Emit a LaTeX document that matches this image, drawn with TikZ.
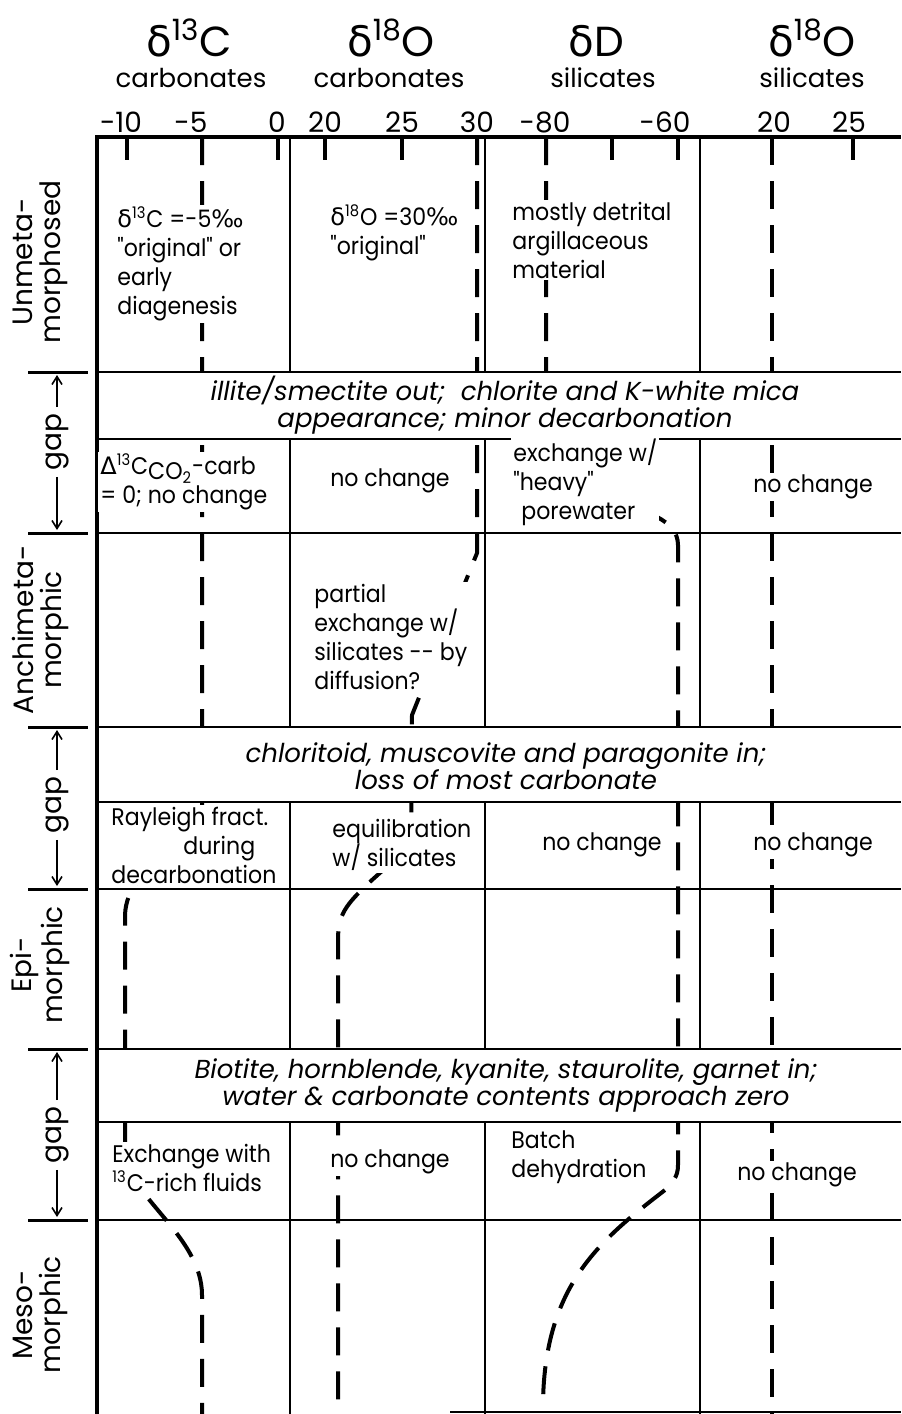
\documentclass[tikz,border=0pt]{standalone}
\usepackage{fontspec}
\setmainfont{Poppins}
\newfontfamily\cellfont{Poppins}[FakeStretch=0.92]
\newfontfamily\grk{DejaVu Sans}
\usetikzlibrary{arrows.meta}
\newcommand\dl{{\grk δ}}
\newcommand\Dl{{\grk Δ}}
\newcommand\pmil{{\grk ‰}}

\begin{document}
\begin{tikzpicture}[x=0.5pt, y=-0.5pt,
    every node/.style={inner sep=1pt},
    isoline/.style={line width=2pt, dash pattern=on 14pt off 8pt},
    thinline/.style={line width=0.7pt},
    frameline/.style={line width=2pt},
    tickmark/.style={line width=2pt},
    zoneline/.style={line width=1.5pt},
    band/.style={fill=white},
    cell/.style={fill=white, anchor=west, align=left, font=\cellfont\fontsize{12}{14.5}\selectfont},
    nochange/.style={fill=white, font=\cellfont\fontsize{12}{14.5}\selectfont},
    bandtext/.style={align=center, font=\fontsize{13}{13.5}\selectfont\itshape},
    ticklabel/.style={anchor=base, font=\fontsize{14}{14}\selectfont},
    isohead/.style={anchor=base, inner sep=0pt, font=\fontsize{21}{21}\selectfont},
    isosub/.style={anchor=base, inner sep=0pt, font=\fontsize{13}{13}\selectfont},
    zone/.style={rotate=90, align=center, font=\fontsize{14}{14}\selectfont},
    gaplabel/.style={rotate=90, inner sep=3pt, font=\fontsize{14}{14}\selectfont},
    gaparrow/.style={line width=0.8pt, -{Straight Barb[length=4pt, width=5pt]}}]
    \useasboundingbox (0,0) rectangle (901,1414);

    \draw[isoline] (202,137) -- (202,815) .. controls (202,850) and (127,860) .. (125,915) -- (125,1150) .. controls (125,1195) and (202,1235) .. (202,1295) -- (202,1414);
    \draw[isoline] (477,137) -- (477,553) -- (412,715) -- (411,845) -- (372,880) .. controls (345,905) and (338,915) .. (338,940) -- (338,1414);
    \draw[isoline] (546,137) -- (546,470) .. controls (546,505) and (678,495) .. (678,545) -- (678,1165) .. controls (678,1178) and (672,1182) .. (665,1190) .. controls (600,1240) and (545,1285) .. (543,1402);
    \draw[isoline] (772,137) -- (772,1414);

    \foreach \cx in {290,485,700}
        \draw[thinline] (\cx,137) -- (\cx,1414);
    \fill[band] (97,372) rectangle (901,439);
    \fill[band] (97,727) rectangle (901,802);
    \fill[band] (97,1049) rectangle (901,1122);
    \foreach \ry in {372,439,533,727,802,889,1049,1122,1220}
        \draw[thinline] (97,\ry) -- (901,\ry);
    \draw[thinline] (450,1412) -- (901,1412);
    \draw[frameline] (95,137) -- (901,137);
    \draw[frameline] (97,136) -- (97,1414);
    \foreach \tx in {127,202,278,325,402,477,546,612,678,772,853}
        \draw[tickmark] (\tx,137) -- (\tx,160);
    \foreach \ry in {372,533,727,889,1049,1220}
        \draw[zoneline] (28,\ry) -- (88,\ry);

    \foreach \lx/\lt [count=\i] in {121/-10,191/-5,277/0,325/20,402/25,477/30,545/-80,665/-60,774/20,849/25}
        \node[ticklabel] (tick\i) at (\lx,132) {\lt};

    \node[isohead] (hC) at (189,56) {\dl\textsuperscript{13}C};
    \node[isosub] (hCs) at (191,87) {carbonates};
    \node[isohead] (hO) at (391,56) {\dl\textsuperscript{18}O};
    \node[isosub] (hOs) at (389,87) {carbonates};
    \node[isohead] (hD) at (596,56) {\dl D};
    \node[isosub] (hDs) at (603,87) {silicates};
    \node[isohead] (hS) at (812,56) {\dl\textsuperscript{18}O};
    \node[isosub] (hSs) at (812,87) {silicates};

    \node[zone] (unmeta) at (40,262) {Unmeta-\\morphosed};
    \node[zone] (anchi) at (40,630) {Anchimeta-\\morphic};
    \node[zone] (epi) at (40,965) {Epi-\\morphic};
    \node[zone] (meso) at (40,1315) {Meso-\\morphic};

    \node[gaplabel] (gap1) at (57,442) {gap};
    \node[gaplabel] (gap2) at (57,805) {gap};
    \node[gaplabel] (gap3) at (57,1135) {gap};
    \coordinate (gap1t) at (57,375);
    \coordinate (gap1b) at (57,530);
    \coordinate (gap2t) at (57,730);
    \coordinate (gap2b) at (57,886);
    \coordinate (gap3t) at (57,1052);
    \coordinate (gap3b) at (57,1217);
    \draw[gaparrow] (gap1) -- (gap1t);
    \draw[gaparrow] (gap1) -- (gap1b);
    \draw[gaparrow] (gap2) -- (gap2t);
    \draw[gaparrow] (gap2) -- (gap2b);
    \draw[gaparrow] (gap3) -- (gap3t);
    \draw[gaparrow] (gap3) -- (gap3b);

    \node[bandtext] (band1) at (505,405) {illite/smectite out;\ \ chlorite and K-white mica\\appearance; minor decarbonation};
    \node[bandtext] (band2) at (506,766) {chloritoid, muscovite and paragonite in;\\loss of most carbonate};
    \node[bandtext] (band3) at (506,1085) {Biotite, hornblende, kyanite, staurolite, garnet in;\\water \& carbonate contents approach zero};

    \node[cell] (c11) at (115,264) {\dl\textsuperscript{13}C =-5\pmil\\"original" or\\early\\diagenesis};
    \node[cell] (c12) at (328,233) {\dl\textsuperscript{18}O =30\pmil\\"original"};
    \node[cell] (c13) at (510,240) {mostly detrital\\argillaceous\\material};
    \node[cell] (c21) at (98,482) {\Dl\textsuperscript{13}C\raisebox{-0.4ex}{CO\textsubscript{2}}-carb\\= 0; no change};
    \node[nochange] (c22) at (390,481) {no change};
    \node[cell] (c23) at (511,482) {exchange w/\\"heavy"\\\hspace*{4pt}porewater};
    \node[nochange] (c24) at (813,487) {no change};
    \node[cell] (c32) at (312,637) {partial\\exchange w/\\silicates -{}- by\\diffusion?};
    \node[cell] (c41) at (109,845) {Rayleigh fract.\\\hspace*{36pt}during\\decarbonation};
    \node[cell] (c42) at (330,845) {equilibration\\w/ silicates};
    \node[nochange] (c43) at (602,845) {no change};
    \node[nochange] (c44) at (813,845) {no change};
    \node[cell] (c51) at (110,1168) {Exchange with\\\textsuperscript{13}C-rich fluids};
    \node[nochange] (c52) at (390,1162) {no change};
    \node[cell] (c53) at (509,1157) {Batch\\dehydration};
    \node[nochange] (c54) at (797,1175) {no change};
\end{tikzpicture}
\end{document}
